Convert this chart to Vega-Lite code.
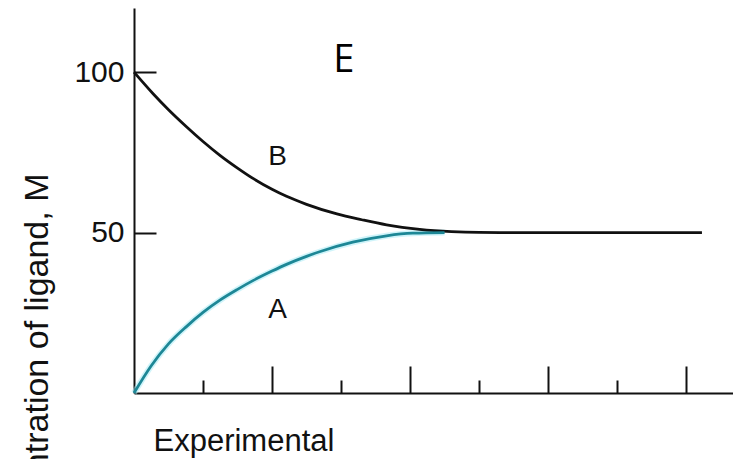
{
  "$schema": "https://vega.github.io/schema/vega-lite/v6.json",
  "width": 599,
  "height": 385,
  "autosize": {"type": "none"},
  "padding": {"left": 134, "top": 8, "right": 0, "bottom": 66},
  "background": "white",
  "config": {
    "view": {"stroke": null},
    "axis": {
      "domainColor": "#111111",
      "domainWidth": 2,
      "tickColor": "#111111",
      "tickWidth": 2,
      "grid": false,
      "labelFont": "Liberation Sans",
      "titleFont": "Liberation Sans",
      "labelColor": "#111111",
      "titleColor": "#111111",
      "titleFontWeight": "normal"
    }
  },
  "datasets": {
    "curves": [
      {"t": 0, "c": 100, "s": "B"},
      {"t": 0.28, "c": 93.2, "s": "B"},
      {"t": 0.5, "c": 88.3, "s": "B"},
      {"t": 0.76, "c": 83, "s": "B"},
      {"t": 1.0, "c": 78.4, "s": "B"},
      {"t": 1.25, "c": 74.0, "s": "B"},
      {"t": 1.5, "c": 70.1, "s": "B"},
      {"t": 1.73, "c": 66.8, "s": "B"},
      {"t": 2.0, "c": 63.5, "s": "B"},
      {"t": 2.21, "c": 61.3, "s": "B"},
      {"t": 2.5, "c": 58.8, "s": "B"},
      {"t": 2.94, "c": 55.8, "s": "B"},
      {"t": 3.3, "c": 54.0, "s": "B"},
      {"t": 3.66, "c": 52.4, "s": "B"},
      {"t": 4.14, "c": 51.0, "s": "B"},
      {"t": 4.6, "c": 50.3, "s": "B"},
      {"t": 5.0, "c": 50.05, "s": "B"},
      {"t": 5.5, "c": 50, "s": "B"},
      {"t": 8.23, "c": 50, "s": "B"},
      {"t": 0, "c": 0, "s": "A"},
      {"t": 0.25, "c": 8.5, "s": "A"},
      {"t": 0.5, "c": 15.3, "s": "A"},
      {"t": 0.76, "c": 20.7, "s": "A"},
      {"t": 1.0, "c": 25.1, "s": "A"},
      {"t": 1.25, "c": 29, "s": "A"},
      {"t": 1.5, "c": 32.3, "s": "A"},
      {"t": 1.73, "c": 35.1, "s": "A"},
      {"t": 2.0, "c": 38.0, "s": "A"},
      {"t": 2.21, "c": 40.1, "s": "A"},
      {"t": 2.5, "c": 42.6, "s": "A"},
      {"t": 2.7, "c": 44.1, "s": "A"},
      {"t": 3.17, "c": 47.0, "s": "A"},
      {"t": 3.66, "c": 49.0, "s": "A"},
      {"t": 4.04, "c": 49.8, "s": "A"},
      {"t": 4.5, "c": 50, "s": "A"}
    ],
    "labels": [
      {"t": 2.08, "c": 71, "label": "B", "kind": "curve"},
      {"t": 2.08, "c": 23.4, "label": "A", "kind": "curve"},
      {"t": 3.04, "c": 100, "label": "E", "kind": "panel"}
    ]
  },
  "layer": [
    {
      "data": {"name": "curves"},
      "transform": [{"filter": "datum.s === 'A'"}],
      "mark": {"type": "line", "color": "#9fe9f5", "strokeWidth": 6, "opacity": 0.5, "interpolate": "monotone"},
      "encoding": {
        "x": {"field": "t", "type": "quantitative"},
        "y": {"field": "c", "type": "quantitative"}
      }
    },
    {
      "data": {"name": "curves"},
      "mark": {"type": "line", "interpolate": "monotone", "strokeWidth": 2.8},
      "encoding": {
        "x": {
          "field": "t",
          "type": "quantitative",
          "scale": {"domain": [0, 8.68], "nice": false, "zero": true},
          "axis": {
            "values": [1, 2, 3, 4, 5, 6, 7, 8],
            "labels": false,
            "tickSize": {"condition": {"test": "datum.value % 2 === 0", "value": -27}, "value": -13},
            "title": "Experimental",
            "titleFontSize": 31,
            "titleAnchor": "start",
            "titleAlign": "left",
            "titleBaseline": "alphabetic",
            "titleX": 19,
            "titleY": 57
          }
        },
        "y": {
          "field": "c",
          "type": "quantitative",
          "scale": {"domain": [0, 120], "nice": false},
          "axis": {
            "values": [50, 100],
            "tickSize": -22,
            "labelFontSize": 30,
            "labelPadding": 32,
            "title": "Concentration of ligand, M",
            "titleFontSize": 34,
            "titleAngle": 270,
            "titleAlign": "right",
            "titleBaseline": "alphabetic",
            "titleX": -87,
            "titleY": 165
          }
        },
        "color": {
          "field": "s",
          "type": "nominal",
          "scale": {"domain": ["A", "B"], "range": ["#1d8796", "#111111"]},
          "legend": null
        }
      }
    },
    {
      "data": {"name": "labels"},
      "transform": [{"filter": "datum.kind === 'curve'"}],
      "mark": {"type": "text", "font": "Liberation Sans", "fontSize": 28, "color": "#111111", "align": "center", "baseline": "alphabetic"},
      "encoding": {
        "x": {"field": "t", "type": "quantitative"},
        "y": {"field": "c", "type": "quantitative"},
        "text": {"field": "label"}
      }
    },
    {
      "data": {"name": "labels"},
      "transform": [{"filter": "datum.kind === 'panel'"}],
      "mark": {"type": "text", "font": "Open Sans", "fontSize": 38, "color": "#000000", "align": "center", "baseline": "alphabetic"},
      "encoding": {
        "x": {"field": "t", "type": "quantitative"},
        "y": {"field": "c", "type": "quantitative"},
        "text": {"field": "label"}
      }
    }
  ]
}
